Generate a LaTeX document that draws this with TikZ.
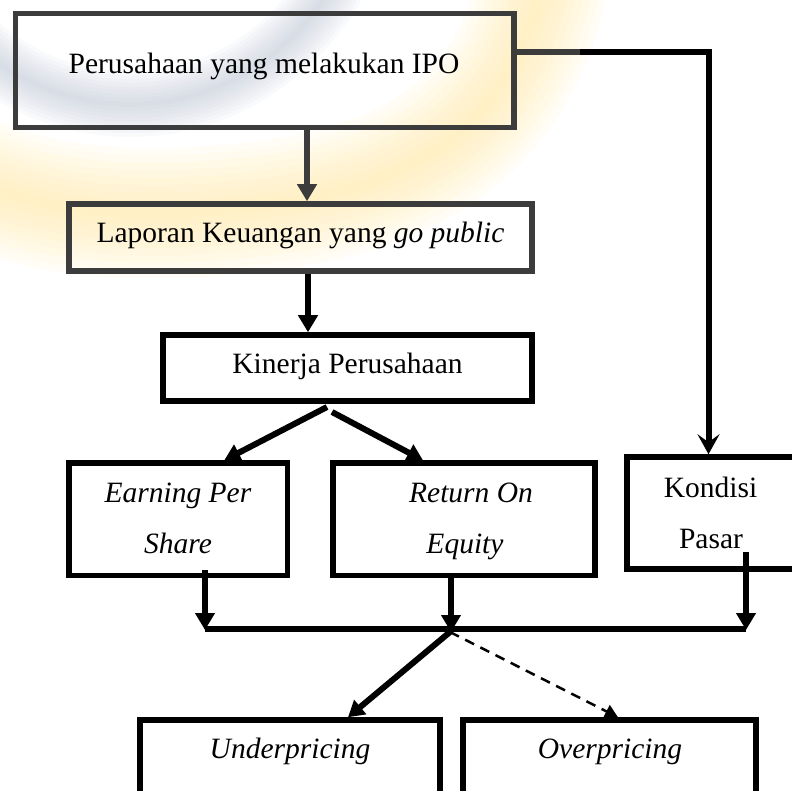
\documentclass[tikz,border=0pt]{standalone}
\usepackage{fontspec}
\setmainfont{Liberation Serif}
\usetikzlibrary{arrows.meta}
\definecolor{darkln}{HTML}{3C3C3C}
\definecolor{wmyellow}{HTML}{FFE9A0}
\definecolor{wmblue}{HTML}{B8BFD2}
\tikzset{
  box/.style={draw, line width=5.5pt, inner sep=0pt},
  txt/.style={inner sep=0pt, anchor=base, font=\fontsize{29.5pt}{36pt}\selectfont},
  conn/.style={line width=5.5pt},
  arr/.style={line width=5.5pt, -{Triangle[length=17pt,width=19pt]}},
  sarr/.style={line width=6pt, -{Triangle[length=16pt,width=18pt]}},
  karr/.style={line width=5.5pt, -{Stealth[length=20pt,width=22pt,inset=8pt]}},
  darr/.style={line width=2.5pt, dash pattern=on 10pt off 7pt, -{Triangle[length=13pt,width=14pt]}}
}
\begin{document}
\begin{tikzpicture}[x=1pt,y=-1pt]
\useasboundingbox (0,0) rectangle (792,791);
\clip (0,0) rectangle (792,791);
\fill[white] (0,0) rectangle (792,791);
% faint, blurred watermark
\foreach \w in {130,115,...,10}{
  \draw[wmyellow, line width=\w pt, opacity=0.09, line cap=round]
    (545,-30) .. controls (520,110) and (430,185) .. (270,205)
    .. controls (150,220) and (50,215) .. (-30,180);
  \draw[wmblue, line width=0.5*\w pt, opacity=0.07, line cap=round]
    (-30,40) .. controls (70,135) and (240,130) .. (330,-10);
}
% boxes
\node[box, draw=darkln, minimum width=498.5pt, minimum height=114pt] (b1) at (264.75,70.5) {};
\node[box, draw=darkln, minimum width=463pt, minimum height=67pt] (b2) at (300.5,237.5) {};
\node[box, minimum width=369pt, minimum height=66pt] (b3) at (347.5,368) {};
\node[box, minimum width=218.5pt, minimum height=112.5pt] (eps) at (178.25,519.25) {};
\node[box, minimum width=262pt, minimum height=112.5pt] (roe) at (464,519.25) {};
\node[box, minimum width=200pt, minimum height=112pt] (kp) at (727,513) {};
\node[box, minimum width=300pt, minimum height=120pt] (up) at (290,780) {};
\node[box, minimum width=293pt, minimum height=120pt] (op) at (609.5,780) {};
% texts
\node[txt] (t1) at (264,74) {Perusahaan yang melakukan IPO};
\node[txt] (t2) at (300.5,243) {Laporan Keuangan yang \textit{go public}};
\node[txt] (t3) at (347.5,373) {Kinerja Perusahaan};
\node[txt] (t4a) at (178,502) {\textit{Earning Per}};
\node[txt] (t4b) at (178,553) {\textit{Share}};
\node[txt] (t5a) at (471,502) {\textit{Return On}};
\node[txt] (t5b) at (465,553) {\textit{Equity}};
\node[txt] (t6a) at (710.5,497) {Kondisi};
\node[txt] (t6b) at (711,548) {Pasar};
\node[txt] (t7) at (290,758) {\textit{Underpricing}};
\node[txt] (t8) at (610,758) {\textit{Overpricing}};
% coordinates
\coordinate (r1) at (514,52);
\coordinate (g1) at (580,52);
\coordinate (kx) at (708.5,52);
\coordinate (s1) at (327,407);
\coordinate (s2) at (332,412);
\coordinate (e0) at (205,570);
\coordinate (ro0) at (451,575);
\coordinate (k0) at (746,552);
\coordinate (busL) at (205,629);
\coordinate (busR) at (746,629);
\coordinate (j) at (450,632);
% connectors
\draw[arr, draw=darkln] (b1.south -| ro0) ++(-144,0) coordinate (a1) -- (a1 |- b2.north);
\draw[arr] (b2.south -| a1) ++(1,0) coordinate (a2) -- (a2 |- b3.north);
\draw[conn, line width=6pt, darkln] (r1) -- (g1);
\draw[karr, line width=6pt] (g1) -| (kx |- kp.north);
\draw[sarr] (s1) -- ([xshift=46pt]eps.north);
\draw[sarr] (s2) -- ([xshift=-41pt]roe.north);
\draw[conn] (busL) -- (busR);
\draw[arr] (e0) -- ([yshift=-1pt]busL);
\draw[arr] (ro0) -- (ro0 |- j);
\draw[arr] (k0) -- ([yshift=-1pt]busR);
\draw[sarr] (j) -- ([xshift=58pt]up.north);
\draw[darr] (j) -- ([xshift=8.5pt]op.north);
\end{tikzpicture}
\end{document}
